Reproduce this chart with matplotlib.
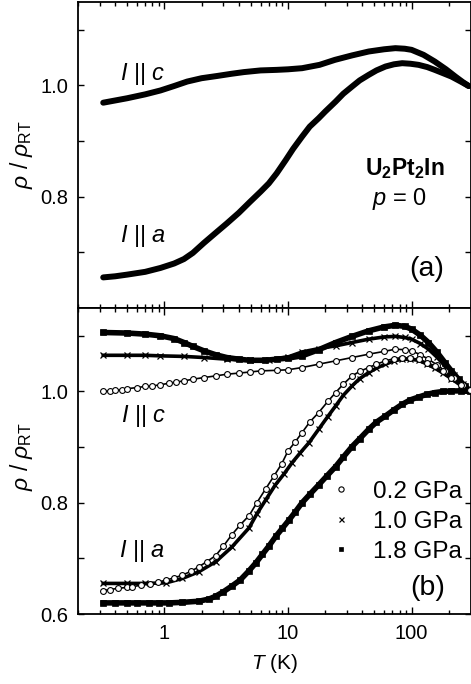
import matplotlib
matplotlib.use("Agg")
import matplotlib.pyplot as plt
from matplotlib.ticker import FixedLocator, FuncFormatter, LogLocator, NullFormatter

plt.rcParams['font.family'] = ['Liberation Sans', 'DejaVu Sans']
plt.rcParams['mathtext.fontset'] = 'custom'
plt.rcParams['mathtext.rm'] = 'Liberation Sans'
plt.rcParams['mathtext.it'] = 'Liberation Sans:italic'
plt.rcParams['mathtext.bf'] = 'Liberation Sans:bold'

# ---------------- data: panel (a), p = 0 ----------------
T_a0 = [0.32, 0.40, 0.50, 0.70, 0.93, 1.2, 1.44, 1.7, 2.09, 2.6, 3.2, 4.0, 4.94, 6.0, 7.0, 8.1,
        9.6, 11, 13, 15, 17.7, 20, 24.3, 28, 33, 38, 45, 52, 61.5, 72, 84, 98, 114, 134, 154,
        180, 210, 250, 290]
rho_a0 = [0.655, 0.657, 0.660, 0.665, 0.672, 0.680, 0.688, 0.699, 0.717, 0.735, 0.752, 0.771,
          0.791, 0.809, 0.824, 0.842, 0.866, 0.886, 0.908, 0.926, 0.941, 0.953, 0.971, 0.985,
          0.998, 1.009, 1.019, 1.027, 1.034, 1.038, 1.040, 1.039, 1.037, 1.033, 1.028, 1.022,
          1.016, 1.007, 0.999]
T_c0 = [0.32, 0.40, 0.50, 0.70, 0.93, 1.2, 1.53, 2.0, 2.67, 3.5, 4.4, 6.0, 8.1, 10, 13, 18,
        24, 33, 45, 60, 74, 88, 100, 125, 154, 190, 226, 260, 290]
rho_c0 = [0.969, 0.973, 0.977, 0.984, 0.991, 0.999, 1.007, 1.013, 1.017, 1.021, 1.024, 1.027,
          1.028, 1.029, 1.031, 1.037, 1.046, 1.054, 1.061, 1.065, 1.067, 1.066, 1.064, 1.055,
          1.043, 1.029, 1.016, 1.006, 0.999]

# ---------------- data: panel (b), under pressure ----------------
pressures = ['0.2 GPa', '1.0 GPa', '1.8 GPa']

# I || c
T_c02 = [0.32, 0.36, 0.40, 0.45, 0.50, 0.6, 0.7, 0.8, 0.93, 1.1, 1.25, 1.44, 1.7, 2.09, 2.6,
         3.2, 4.0, 4.94, 6.0, 8.1, 10, 13, 17.7, 24.3, 33, 45, 60, 74, 88, 100, 118, 137,
         160, 186, 220, 260, 295]
rho_c02 = [1.000, 1.001, 1.002, 1.003, 1.005, 1.007, 1.009, 1.010, 1.012, 1.015, 1.017, 1.019,
           1.022, 1.025, 1.028, 1.031, 1.033, 1.035, 1.037, 1.038, 1.039, 1.043, 1.049, 1.055,
           1.061, 1.067, 1.072, 1.076, 1.075, 1.073, 1.066, 1.058, 1.048, 1.037, 1.024, 1.012,
           1.003]
T_c10 = [0.32, 0.5, 0.7, 0.93, 1.44, 2.09, 3.2, 4.94, 7.0, 10, 13, 17.7, 24.3, 33, 45, 60,
         74, 88, 100, 118, 137, 160, 186, 220, 260, 295]
rho_c10 = [1.065, 1.065, 1.065, 1.064, 1.063, 1.061, 1.058, 1.056, 1.057, 1.062, 1.071, 1.077,
           1.082, 1.088, 1.094, 1.098, 1.099, 1.097, 1.094, 1.086, 1.076, 1.062, 1.046, 1.030,
           1.014, 1.003]
T_c18 = [0.32, 0.5, 0.7, 0.93, 1.2, 1.44, 1.7, 2.09, 2.6, 3.2, 4.0, 4.94, 6.5, 8.1, 10, 13,
         17.7, 24.3, 33, 45, 60, 74, 88, 100, 118, 137, 160, 186, 210, 240, 270, 295]
rho_c18 = [1.106, 1.105, 1.103, 1.100, 1.095, 1.088, 1.081, 1.073, 1.066, 1.061, 1.058, 1.056,
           1.056, 1.058, 1.060, 1.064, 1.075, 1.088, 1.099, 1.109, 1.116, 1.119, 1.117, 1.112,
           1.101, 1.088, 1.071, 1.052, 1.037, 1.022, 1.010, 1.002]

# I || a
T_a02 = [0.32, 0.36, 0.42, 0.5, 0.55, 0.65, 0.76, 0.88, 1.03, 1.2, 1.4, 1.65, 1.9, 2.2, 2.6,
         3.0, 3.5, 4.1, 4.85, 5.6, 6.6, 7.7, 8.9, 10, 11.5, 13, 15, 17.7, 21, 24.3, 28, 33,
         38, 45, 52, 61.5, 72, 84, 98, 114, 134, 154, 180, 210, 250, 295]
rho_a02 = [0.642, 0.644, 0.646, 0.648, 0.649, 0.652, 0.654, 0.657, 0.661, 0.665, 0.670, 0.677,
           0.685, 0.694, 0.705, 0.722, 0.742, 0.760, 0.777, 0.800, 0.825, 0.848, 0.870, 0.893,
           0.910, 0.926, 0.945, 0.962, 0.982, 0.998, 1.013, 1.028, 1.036, 1.043, 1.049, 1.055,
           1.059, 1.061, 1.060, 1.058, 1.052, 1.046, 1.036, 1.025, 1.012, 1.002]
T_a10 = [0.32, 0.5, 0.7, 1.03, 1.4, 1.9, 2.6, 3.5, 4.85, 5.6, 6.6, 7.9, 9.3, 10.8, 12.6, 14.8,
         17.7, 21, 24.3, 28, 33, 38, 45, 52, 61.5, 72, 84, 98, 114, 134, 154, 180, 210, 250, 295]
rho_a10 = [0.655, 0.655, 0.655, 0.656, 0.664, 0.676, 0.694, 0.720, 0.755, 0.780, 0.805, 0.832,
           0.852, 0.872, 0.890, 0.908, 0.932, 0.955, 0.974, 0.993, 1.010, 1.023, 1.034, 1.042,
           1.049, 1.055, 1.058, 1.058, 1.056, 1.049, 1.042, 1.033, 1.023, 1.011, 1.002]
T_a18 = [0.32, 0.4, 0.5, 0.6, 0.75, 0.9, 1.1, 1.4, 1.9, 2.3, 2.6, 3.0, 3.5, 4.1, 4.85, 5.5,
         6.2, 7.0, 8.0, 9.0, 10.2, 11.5, 13, 15, 17.7, 20.6, 24.3, 28, 33, 38, 45, 52, 61.5,
         72, 84, 98, 114, 134, 154, 180, 210, 250, 295]
rho_a18 = [0.620, 0.620, 0.620, 0.620, 0.620, 0.620, 0.620, 0.621, 0.623, 0.627, 0.632, 0.640,
           0.650, 0.661, 0.678, 0.692, 0.707, 0.722, 0.740, 0.754, 0.769, 0.784, 0.800, 0.815,
           0.832, 0.848, 0.865, 0.882, 0.901, 0.915, 0.932, 0.945, 0.956, 0.967, 0.977, 0.985,
           0.990, 0.995, 0.998, 1.000, 1.001, 1.001, 1.000]

xticks = [1, 10, 100]
yticks_major = [0.6, 0.8, 1.0]
yticks_minor = [0.7, 0.9, 1.1]

# ---------------- figure ----------------
fig = plt.figure(figsize=(4.71, 6.84), dpi=100)
ax1 = fig.add_axes([0.1656, 0.5497, 0.8334, 0.4474])
ax2 = fig.add_axes([0.1656, 0.1023, 0.8334, 0.4474], sharex=ax1)

ax1.plot(T_c0, rho_c0, color='black', lw=4.3, solid_capstyle='round', solid_joinstyle='round')
ax1.plot(T_a0, rho_a0, color='black', lw=4.3, solid_capstyle='round', solid_joinstyle='round')

# panel (b)
styles = [
    dict(marker='o', mfc='white', mec='black', ms=4.2, mew=0.8),
    dict(marker='x', mfc='black', mec='black', ms=4.0, mew=0.9),
    dict(marker='s', mfc='black', mec='black', ms=3.8, mew=0.5),
]
band_lw = [1.2, 2.6, 4.0]
series_c = [(T_c02, rho_c02), (T_c10, rho_c10), (T_c18, rho_c18)]
series_a = [(T_a02, rho_a02), (T_a10, rho_a10), (T_a18, rho_a18)]
handles = []
for i in [2, 1, 0]:
    for (T, r) in (series_c[i], series_a[i]):
        ax2.plot(T, r, color='black', lw=band_lw[i], solid_joinstyle='round', zorder=2)
for i in [2, 1, 0]:
    for k, (T, r) in enumerate((series_c[i], series_a[i])):
        h, = ax2.plot(T, r, ls='none', zorder=3, **styles[i])
        if k == 0:
            handles.append((i, h))
handles = [h for i, h in sorted(handles, key=lambda t: t[0])]

leg = ax2.legend(handles, pressures, loc='upper left', bbox_to_anchor=(0.634, 0.435),
                 frameon=False, fontsize=17.5, handlelength=1.2, handletextpad=0.68,
                 labelspacing=0.33, borderpad=0, borderaxespad=0, markerscale=0.9)

for ax in (ax1, ax2):
    ax.set_xscale('log')
    ax.set_xlim(0.2, 300)
    ax.set_ylim(0.6, 1.15)
    ax.xaxis.set_major_locator(FixedLocator(xticks))
    ax.xaxis.set_minor_locator(LogLocator(base=10, subs=range(2, 10), numticks=20))
    ax.xaxis.set_minor_formatter(NullFormatter())
    ax.yaxis.set_minor_locator(FixedLocator(yticks_minor))
    ax.tick_params(which='both', direction='in', top=True, right=True, width=1.0,
                   labelsize=14.5, pad=7)
    ax.tick_params(axis='x', which='major', length=5)
    ax.tick_params(axis='x', which='minor', length=2.6)
    ax.tick_params(axis='y', which='both', length=4.5)
    for s in ax.spines.values():
        s.set_linewidth(1.3)
    ax.set_ylabel(r'$\rho$ / $\rho_{\mathrm{RT}}$', fontsize=16.5)

ax1.yaxis.set_label_coords(-0.11, 0.5)
ax2.yaxis.set_label_coords(-0.11, 0.515)

ax1.yaxis.set_major_locator(FixedLocator([0.8, 1.0]))
ax2.yaxis.set_major_locator(FixedLocator(yticks_major))
fmt = FuncFormatter(lambda v, p: f'{v:.1f}')
ax1.yaxis.set_major_formatter(fmt)
ax2.yaxis.set_major_formatter(fmt)
ax2.xaxis.set_major_formatter(FuncFormatter(lambda v, p: f'{v:g}'))
ax1.tick_params(axis='x', labelbottom=False)

ax2.set_xlabel(r'$T$ (K)', fontsize=15)
ax2.xaxis.set_label_coords(0.5, -0.125)

lbl = 17
ax1.text(0.107, 0.765, r'$I$ || $c$', transform=ax1.transAxes, fontsize=lbl, va='center', ha='left')
ax1.text(0.106, 0.235, r'$I$ || $a$', transform=ax1.transAxes, fontsize=lbl, va='center', ha='left')
ax1.text(0.834, 0.455, r'$\mathbf{U_2Pt_2In}$', transform=ax1.transAxes, fontsize=16.5,
         va='center', ha='center')
ax1.text(0.82, 0.356, r'$p$ = 0', transform=ax1.transAxes, fontsize=17, va='center', ha='center')
ax1.text(0.889, 0.127, '(a)', transform=ax1.transAxes, fontsize=20.5, va='center', ha='center')

ax2.text(0.11, 0.647, r'$I$ || $c$', transform=ax2.transAxes, fontsize=lbl, va='center', ha='left')
ax2.text(0.104, 0.206, r'$I$ || $a$', transform=ax2.transAxes, fontsize=lbl, va='center', ha='left')
ax2.text(0.891, 0.085, '(b)', transform=ax2.transAxes, fontsize=20.5, va='center', ha='center')

fig.savefig('out.png', dpi=100)
